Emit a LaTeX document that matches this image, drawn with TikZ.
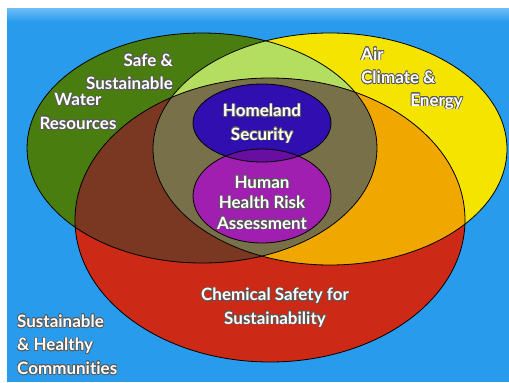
\documentclass[tikz,border=0pt]{standalone}
\usepackage{fontspec}
\setmainfont{Lato}[Ligatures=NoCommon]
\usepackage{contour}
\contourlength{0.7pt}
\usetikzlibrary{positioning}

\definecolor{skyback}{RGB}{40,155,236}
\definecolor{skytop}{RGB}{110,190,245}
\definecolor{watergreen}{RGB}{74,125,16}
\definecolor{airyellow}{RGB}{244,228,0}
\definecolor{chemred}{RGB}{204,42,22}
\definecolor{lightgreen}{RGB}{180,222,96}
\definecolor{rustbrown}{RGB}{122,56,34}
\definecolor{amber}{RGB}{240,168,0}
\definecolor{olive}{RGB}{120,112,72}
\definecolor{homeblue}{RGB}{48,14,176}
\definecolor{healthpurple}{RGB}{160,30,176}
\definecolor{mixpurple}{RGB}{104,14,160}
\definecolor{textedge}{RGB}{90,90,90}

% the three big sets and the two inner ones
\newcommand\watershape{(202,148) ellipse [x radius=175, y radius=115]}
\newcommand\airshape{(330,149) ellipse [x radius=177, y radius=116]}
\newcommand\chemshape{(270,220) ellipse [x radius=195, y radius=142]}
\newcommand\homeshape{(262,123) ellipse [x radius=69, y radius=39]}
\newcommand\healthshape{(262,196) ellipse [x radius=69, y radius=47]}
\newcommand\wlabel[1]{\contour{textedge}{#1}}

\begin{document}
\begin{tikzpicture}[x=1pt, y=-1pt,
    venn/.style={draw=black, line width=0.8pt},
    lbl/.style={text=white, font=\bfseries\fontsize{17}{23.5}\selectfont, align=center, inner sep=0pt},
    small/.style={lbl, font=\bfseries\fontsize{17}{20.5}\selectfont}
]
\useasboundingbox (0,0) rectangle (509,383);
\fill[white] (0,0) rectangle (509,383);

% background panel
\fill[skyback] (7,8) rectangle (509,382);
\shade[top color=skytop, bottom color=skyback] (7,8) rectangle (509,22);

% big sets
\fill[watergreen] \watershape;
\fill[airyellow] \airshape;
\fill[chemred] \chemshape;

% overlaps
\begin{scope}
  \clip \watershape;
  \fill[lightgreen] \airshape;
  \fill[rustbrown] \chemshape;
\end{scope}
\begin{scope}
  \clip \airshape;
  \fill[amber] \chemshape;
\end{scope}
\begin{scope}
  \clip \watershape;
  \clip \airshape;
  \fill[olive] \chemshape;
\end{scope}

\draw[venn] \watershape;
\draw[venn] \airshape;
\draw[venn] \chemshape;

% inner sets
\fill[homeblue] \homeshape;
\fill[healthpurple] \healthshape;
\begin{scope}
  \clip \homeshape;
  \fill[mixpurple] \healthshape;
\end{scope}
\draw[venn] \homeshape;
\draw[venn] \healthshape;

% labels
\node[lbl, align=right, anchor=east] (safe) at (173,72) {\wlabel{Safe \&}\\\wlabel{Sustainable}};
\node[lbl] (water) at (78,112) {\wlabel{Water}\\\wlabel{Resources}};
\node[lbl, align=left, anchor=west] (air) at (361,66) {\wlabel{Air}\\\wlabel{Climate \&}};
\node[lbl, anchor=east] (energy) at (463,102) {\wlabel{Energy}};
\node[lbl] (home) at (262,124) {\wlabel{Homeland}\\\wlabel{Security}};
\node[small] (health) at (262,203) {\wlabel{Human}\\\wlabel{Health Risk}\\\wlabel{Assessment}};
\node[lbl] (chem) at (275,308) {\wlabel{Chemical Safety for}\\\wlabel{Sustainability}};
\node[lbl, align=left, anchor=west] (communities) at (17,345) {\wlabel{Sustainable}\\\wlabel{\& Healthy}\\\wlabel{Communities}};

\end{tikzpicture}
\end{document}
